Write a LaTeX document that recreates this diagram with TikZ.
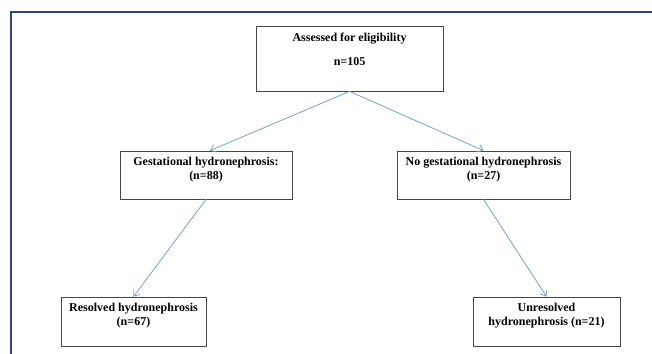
\documentclass[tikz,border=0pt]{standalone}
\usepackage{fontspec}
\setmainfont{Liberation Serif}
\usetikzlibrary{arrows.meta}
\definecolor{framecol}{RGB}{45,68,125}
\definecolor{arrowcol}{RGB}{120,160,205}
\definecolor{boxcol}{RGB}{70,70,70}
\tikzset{
  box/.style={draw=boxcol, line width=0.8pt, rectangle, inner sep=0pt, fill=white},
  txt/.style={font=\fontsize{12}{14.5}\selectfont\bfseries, align=center, inner sep=0pt, anchor=north},
  conn/.style={draw=arrowcol, line width=0.8pt, -{Straight Barb[length=5pt,width=8pt,line width=0.8pt]}},
  frame/.style={draw=framecol, line width=2.6pt}
}
\begin{document}
\begin{tikzpicture}[x=1pt,y=-1pt]
\useasboundingbox[fill=white] (0,0) rectangle (652,353);
\begin{scope}
\clip (0,0) rectangle (652,353);
\draw[frame] (11,360) -- (11,12) -- (660,12);
\end{scope}
% boxes
\node[box, minimum width=187pt, minimum height=65pt] (top) at (349.5,58.5) {};
\node[box, minimum width=172pt, minimum height=48pt] (lm) at (206,175) {};
\node[box, minimum width=173pt, minimum height=48pt] (rm) at (483.5,175) {};
\node[box, minimum width=145pt, minimum height=49pt] (lb) at (133.5,321.5) {};
\node[box, minimum width=147pt, minimum height=49pt] (rb) at (546.5,321.5) {};
% texts
\node[txt] (toptxt) at ([yshift=-7pt]top.north) {Assessed for eligibility\\[9.5pt] n=105};
\node[txt] (lmtxt) at ([yshift=-6pt]lm.north) {Gestational hydronephrosis:\\ (n=88)};
\node[txt] (rmtxt) at ([yshift=-6pt]rm.north) {No gestational hydronephrosis\\ (n=27)};
\node[txt] (lbtxt) at ([yshift=-6pt]lb.north) {Resolved hydronephrosis\\ (n=67)};
\node[txt] (rbtxt) at ([yshift=-6pt]rb.north) {Unresolved\\ hydronephrosis (n=21)};
% connectors
\draw[conn] (top.south) -- ([xshift=4pt]lm.north);
\draw[conn] (top.south) -- (rm.north);
\draw[conn] (lm.south) -- (lb.north);
\draw[conn] (rm.south) -- (rb.north);
\end{tikzpicture}
\end{document}
